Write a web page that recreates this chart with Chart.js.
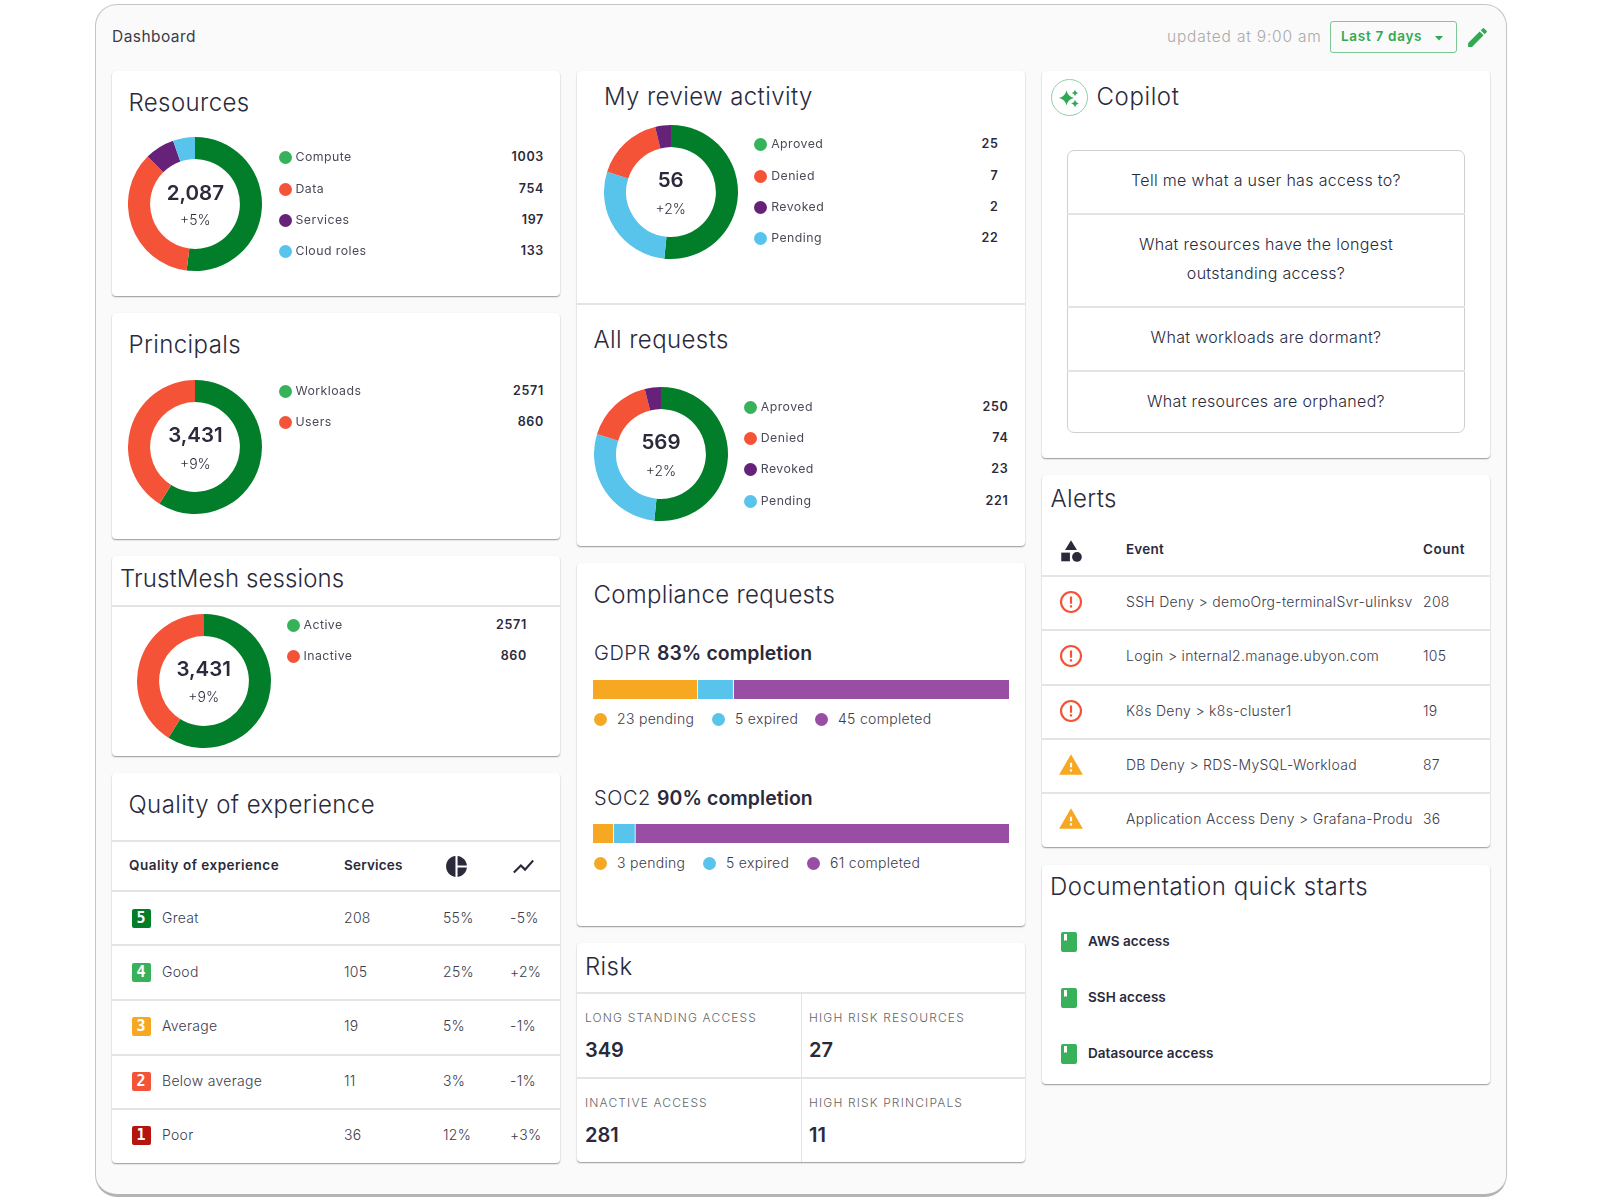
<!DOCTYPE html>
<html>
<head>
<meta charset="utf-8">
<title>Dashboard</title>
<script src="https://cdn.jsdelivr.net/npm/chart.js@4"></script>
<style>
  html, body { margin: 0; padding: 0; background: #fff; }
  #page { position: relative; width: 1600px; height: 1200px; overflow: hidden; font-family: Inter, sans-serif; color: #2a2a3c; }
  #frame { position: absolute; left: 95px; top: 4px; width: 1412px; height: 1193px; background: #fafafa; border: 1px solid #c4c4c4; border-bottom: 3px solid #b4b4b4; border-radius: 22px; box-sizing: border-box; }
  .card { position: absolute; background: #fff; border-radius: 4px; box-shadow: 0 1px 1.5px rgba(0,0,0,.4); }
  .line { position: absolute; background: #e4e4e4; }
  .t { position: absolute; white-space: nowrap; transform: translateY(-50%); line-height: 1; }
  .title { font-size: 24px; font-weight: 300; letter-spacing: .4px; }
  .leg { font-size: 12.3px; letter-spacing: .45px; color: #4a4a58; }
  .num { font-size: 12.5px; font-weight: 600; letter-spacing: .7px; transform: translate(-100%, -50%); }
  .big { font-size: 20.5px; font-weight: 600; transform: translate(-50%, -50%); }
  .pct { font-size: 14px; font-weight: 300; transform: translate(-50%, -50%); color: #2f2f3e; }
  .cell { font-size: 14px; font-weight: 300; color: #3c3c4a; letter-spacing: .3px; }
  .head { font-size: 13.5px; font-weight: 600; letter-spacing: .2px; }
  .ask { font-size: 16px; font-weight: 300; letter-spacing: .32px; transform: translate(-50%, -50%); }
  .sub { font-size: 20px; font-weight: 300; letter-spacing: .55px; }
  .sub b { font-size: 19.4px; font-weight: 600; letter-spacing: .1px; }
  .risk { font-size: 12px; font-weight: 300; letter-spacing: 1.15px; color: #666; }
  .riskv { font-size: 20px; font-weight: 600; }
  .dot { position: absolute; border-radius: 50%; }
  .badge { position: absolute; width: 19px; height: 19px; border-radius: 2px; color: #fff; font: bold 15px "DejaVu Sans Mono", monospace; text-align: center; line-height: 19px; }
  svg, canvas { position: absolute; }
  #range { position: absolute; left: 1330px; top: 21px; width: 127px; height: 32px; border: 1px solid #7cc795; border-radius: 3px; box-sizing: border-box; }
</style>
</head>
<body>
<div id="page"><div id="frame"></div></div>
<script>
const dkGreen = "#027e2a", ltGreen = "#38b25a", red = "#f45337", purple = "#662178", blue = "#58c4ec", orange = "#f7a823", barPurple = "#984ea3";

// counts are what the legends print; the arc shares are read off the rings, they do not follow the counts
const resourceLabels = ["Compute", "Data", "Services", "Cloud roles"];
const resourceCounts = [1003, 754, 197, 133];
const resourceArcs = [52, 35.5, 7.2, 5.3];

const principalLabels = ["Workloads", "Users"];
const principalCounts = [2571, 860];
const principalArcs = [58.9, 41.1];

const sessionLabels = ["Active", "Inactive"];
const sessionCounts = [2571, 860];
const sessionArcs = [58.9, 41.1];

const requestLabels = ["Aproved", "Denied", "Revoked", "Pending"];
const reviewCounts = [25, 7, 2, 22];
const allCounts = [250, 74, 23, 221];
const reviewArcs = [51.6, 28.3, 16.3, 3.8]; // green, blue, red, purple
const allArcs = [51.6, 28.2, 16.3, 3.9];

const complianceLabels = ["pending", "expired", "completed"];
const gdprCounts = [23, 5, 45];
const gdprShares = [25.2, 8.6, 66.2];
const soc2Counts = [3, 5, 61];
const soc2Shares = [5, 5.2, 89.8];

const qoeLabels = ["Great", "Good", "Average", "Below average", "Poor"];
const qoeServices = [208, 105, 19, 11, 36];
const qoeShare = ["55%", "25%", "5%", "3%", "12%"];
const qoeTrend = ["-5%", "+2%", "-1%", "-1%", "+3%"];

const questions = ["Tell me what a user has access to?", "What resources have the longest", "outstanding access?", "What workloads are dormant?", "What resources are orphaned?"];
const alertEvents = ["SSH Deny > demoOrg-terminalSvr-ulinksv", "Login > internal2.manage.ubyon.com", "K8s Deny > k8s-cluster1", "DB Deny > RDS-MySQL-Workload", "Application Access Deny > Grafana-Produ"];
const alertCounts = [208, 105, 19, 87, 36];
const docLinks = ["AWS access", "SSH access", "Datasource access"];
const riskLabels = ["LONG STANDING ACCESS", "HIGH RISK RESOURCES", "INACTIVE ACCESS", "HIGH RISK PRINCIPALS"];
const riskValues = [349, 27, 281, 11];

const page = document.getElementById("page");

function el(tag, css, cls) {
  const e = document.createElement(tag);
  if (cls) e.className = cls;
  e.style.cssText = css;
  page.appendChild(e);
  return e;
}
function card(x, y, w, h) { el("div", `left:${x}px;top:${y}px;width:${w}px;height:${h}px`, "card"); }
function hline(x, y, w) { el("div", `left:${x}px;top:${y}px;width:${w}px;height:1.5px`, "line"); }
function vline(x, y, h) { el("div", `left:${x}px;top:${y}px;width:1px;height:${h}px`, "line"); }
function text(x, y, str, cls, extra) {
  const e = el("div", `left:${x}px;top:${y}px;${extra || ""}`, "t " + cls);
  e.innerHTML = str;
  return e;
}
function dot(x, y, color, r) {
  r = r || 6.5;
  el("div", `left:${x - r}px;top:${y - r}px;width:${2 * r}px;height:${2 * r}px;background:${color}`, "dot");
}
function icon(x, y, size, inner, box) {
  const s = document.createElementNS("http://www.w3.org/2000/svg", "svg");
  s.setAttribute("viewBox", box || "0 0 24 24");
  s.setAttribute("width", size);
  s.setAttribute("height", size);
  s.style.left = (x - size / 2) + "px";
  s.style.top = (y - size / 2) + "px";
  s.innerHTML = inner;
  page.appendChild(s);
}
function star(cx, cy, r) {
  const k = r * 0.18;
  return `M${cx} ${cy - r}Q${cx + k} ${cy - k} ${cx + r} ${cy}Q${cx + k} ${cy + k} ${cx} ${cy + r}Q${cx - k} ${cy + k} ${cx - r} ${cy}Q${cx - k} ${cy - k} ${cx} ${cy - r}Z`;
}

function donut(cx, cy, arcs, colors, big, pct, bigY, pctY) {
  const c = el("canvas", `left:${cx - 67}px;top:${cy - 67}px`);
  c.width = 134;
  c.height = 134;
  new Chart(c, {
    type: "doughnut",
    data: { datasets: [{ data: arcs, backgroundColor: colors, borderWidth: 0, hoverOffset: 0 }] },
    options: {
      responsive: false, animation: false, cutout: "67%",
      plugins: { legend: { display: false }, tooltip: { enabled: false } }
    }
  });
  text(cx, bigY, big, "big");
  text(cx, pctY, pct, "pct");
}

function legend(dotX, ys, labels, counts, colors, numX) {
  labels.forEach((l, i) => {
    dot(dotX, ys[i], colors[i]);
    text(dotX + 10.5, ys[i] - 0.5, l, "leg");
    text(numX, ys[i] - 0.5, counts[i], "num");
  });
}

function bar(y, shares) {
  const c = el("canvas", `left:593px;top:${y}px`);
  c.width = 416;
  c.height = 19;
  const colors = [orange, blue, barPurple];
  new Chart(c, {
    type: "bar",
    data: {
      labels: [""],
      datasets: shares.map((s, i) => ({
        data: [s], backgroundColor: colors[i], borderColor: "#fff",
        borderWidth: { right: i < 2 ? 1 : 0 }, barPercentage: 1, categoryPercentage: 1
      }))
    },
    options: {
      indexAxis: "y", responsive: false, animation: false,
      scales: {
        x: { stacked: true, min: 0, max: 100, display: false },
        y: { stacked: true, display: false }
      },
      plugins: { legend: { display: false }, tooltip: { enabled: false } }
    }
  });
}

function barLegend(y, counts, dotXs) {
  const colors = [orange, blue, barPurple];
  counts.forEach((n, i) => {
    dot(dotXs[i], y, colors[i]);
    text(dotXs[i] + 17, y - 0.5, n + " " + complianceLabels[i], "cell");
  });
}

// header
text(112, 36.5, "Dashboard", "cell", "font-size:15.5px;font-weight:400;letter-spacing:.45px");
text(1167, 36.5, "updated at 9:00 am", "cell", "font-size:15.5px;color:#a9a9a9;letter-spacing:.8px");
el("div", "", "").id = "range";
text(1341, 37, "Last 7 days", "head", "color:#31a852;letter-spacing:.7px");
icon(1439, 37.5, 12, '<path d="M2 4h8L6 8.5z" fill="#31a852"/>', "0 0 12 12");
icon(1477, 37, 25, '<path fill="#31a852" d="M3 17.25V21h3.75L17.81 9.94l-3.75-3.75L3 17.25zM20.71 7.04a1 1 0 0 0 0-1.41l-2.34-2.34a1 1 0 0 0-1.41 0l-1.83 1.83 3.75 3.75 1.83-1.83z"/>');

// left column
card(112, 71, 448, 225);
text(128.5, 102.5, "Resources", "title");
donut(195.4, 204.3, resourceArcs, [dkGreen, red, purple, blue], "2,087", "+5%", 192.5, 220);
legend(285, [157.5, 189, 220, 251], resourceLabels, resourceCounts, [ltGreen, red, purple, blue], 544);

card(112, 313, 448, 226);
text(128.5, 345, "Principals", "title");
donut(195.4, 446.7, principalArcs, [dkGreen, red], "3,431", "+9%", 435, 464);
legend(285, [391, 422], principalLabels, principalCounts, [ltGreen, red], 544);

card(112, 556, 448, 200);
text(120, 579, "TrustMesh sessions", "title", "letter-spacing:.1px");
hline(112, 605, 448);
donut(203.7, 680.7, sessionArcs, [dkGreen, red], "3,431", "+9%", 669, 697);
legend(293, [625.7, 656.5], sessionLabels, sessionCounts, [ltGreen, red], 527);

card(112, 773, 448, 390);
text(128.5, 805, "Quality of experience", "title");
hline(112, 840, 448);
text(129, 865.5, "Quality of experience", "head", "letter-spacing:.5px");
text(344, 865.5, "Services", "head");
icon(456, 866, 25, '<path fill="#2a2a3c" d="M11 2v20c-5.07-.5-9-4.79-9-10s3.93-9.5 9-10zm2.03 0v8.99H22c-.47-4.74-4.24-8.52-8.97-8.99zm0 11.01V22c4.74-.47 8.5-4.25 8.97-8.99h-8.97z"/>');
icon(523, 866, 25, '<path fill="#2a2a3c" d="M3.5 18.49l6-6.01 4 4L22 6.92l-1.41-1.41-7.09 7.97-4-4L2 16.99z"/>');
const qoeY = [918, 972, 1026, 1081, 1135];
const qoeColors = [dkGreen, ltGreen, orange, red, "#b5140f"];
[890, 944, 999, 1054, 1108].forEach(y => hline(112, y, 448));
qoeLabels.forEach((l, i) => {
  el("div", `left:131.5px;top:${qoeY[i] - 9.5}px;background:${qoeColors[i]}`, "badge").textContent = 5 - i;
  text(162, qoeY[i], l, "cell");
  text(344, qoeY[i], qoeServices[i], "cell");
  text(443, qoeY[i], qoeShare[i], "cell");
  text(510, qoeY[i], qoeTrend[i], "cell");
});

// middle column
card(577, 71, 448, 475);
text(604, 96.5, "My review activity", "title");
const ringColors = [dkGreen, blue, red, purple];
const legendColors = [ltGreen, red, purple, blue];
donut(670.7, 191.7, reviewArcs, ringColors, "56", "+2%", 180, 208.7);
legend(760.7, [144.7, 176, 207.3, 238.7], requestLabels, reviewCounts, legendColors, 998.5);
hline(577, 303, 448);
text(593.5, 340, "All requests", "title");
donut(661, 454, allArcs, ringColors, "569", "+2%", 442, 471);
legend(750.3, [407, 438.3, 469.7, 501], requestLabels, allCounts, legendColors, 1008.5);

card(577, 563, 448, 363);
text(593.5, 595, "Compliance requests", "title", "letter-spacing:.3px");
text(594, 653, "GDPR <b>83% completion</b>", "sub");
bar(680, gdprShares);
barLegend(719, gdprCounts, [600, 718, 821]);
text(594, 797.5, "SOC2 <b>90% completion</b>", "sub");
bar(824, soc2Shares);
barLegend(863, soc2Counts, [600, 709, 813]);

card(577, 943, 448, 219);
text(585, 966.5, "Risk", "title");
hline(577, 992, 448);
hline(577, 1077, 448);
vline(800.5, 992, 170);
const riskX = [585, 809, 585, 809];
const riskLabelY = [1018, 1018, 1103, 1103];
const riskValueY = [1050, 1050, 1134.5, 1134.5];
riskLabels.forEach((l, i) => {
  text(riskX[i], riskLabelY[i], l, "risk");
  text(riskX[i], riskValueY[i], riskValues[i], "riskv");
});

// right column
card(1042, 71, 448, 387);
el("div", "position:absolute;left:1050.5px;top:79px;width:37px;height:37px;border:1px solid #8fd0a4;border-radius:50%;box-sizing:border-box");
icon(1069, 97.5, 24, `<path fill="#31a852" d="${star(9.5, 12, 7.5)}${star(18, 7, 3.2)}${star(18, 17.5, 4)}"/>`);
text(1096.5, 96.5, "Copilot", "title", "letter-spacing:.6px");
el("div", "position:absolute;left:1067px;top:150px;width:398px;height:283px;border:1px solid #cfcfcf;border-radius:7px;box-sizing:border-box");
[213, 306, 370].forEach(y => hline(1067, y, 398));
[180, 244, 273, 337, 400.7].forEach((y, i) => text(1266, y, questions[i], "ask"));

card(1042, 475, 448, 372);
text(1050.5, 498.5, "Alerts", "title");
icon(1071, 551, 26, '<path fill="#2a2a3c" d="M12 2l-5.5 9h11z"/><circle fill="#2a2a3c" cx="17.5" cy="17.5" r="4.5"/><rect fill="#2a2a3c" x="3" y="13.5" width="8" height="8"/>');
text(1126, 550, "Event", "head");
text(1423, 550, "Count", "head", "letter-spacing:.5px");
const alertY = [602, 656, 711, 765, 819];
[575, 629, 684, 738, 792].forEach(y => hline(1042, y, 448));
alertEvents.forEach((l, i) => {
  if (i < 3) {
    icon(1071, alertY[i], 26, `<circle cx="12" cy="12" r="9.2" fill="none" stroke="${red}" stroke-width="2"/><path fill="${red}" d="M11 7h2v6.5h-2zM11 15h2v2h-2z"/>`);
  } else {
    icon(1071, alertY[i] - 0.5, 26, `<path fill="${orange}" d="M1 21h22L12 2 1 21zm12-3h-2v-2h2v2zm0-4h-2v-4h2v4z"/>`);
  }
  text(1126, alertY[i], l, "cell");
  text(1423, alertY[i], alertCounts[i], "cell");
});

card(1042, 865, 448, 219);
text(1050, 887, "Documentation quick starts", "title", "letter-spacing:.52px");
const docY = [942, 998, 1054];
docLinks.forEach((l, i) => {
  icon(1068.5, docY[i], 24, `<path fill="${ltGreen}" fill-rule="evenodd" d="M18 2H6c-1.1 0-2 .9-2 2v16c0 1.1.9 2 2 2h12c1.1 0 2-.9 2-2V4c0-1.1-.9-2-2-2zM7 4h3v7l-1.5-1L7 11V4z"/>`);
  text(1088, docY[i], l, "head", "letter-spacing:.05px");
});
</script>
</body>
</html>
